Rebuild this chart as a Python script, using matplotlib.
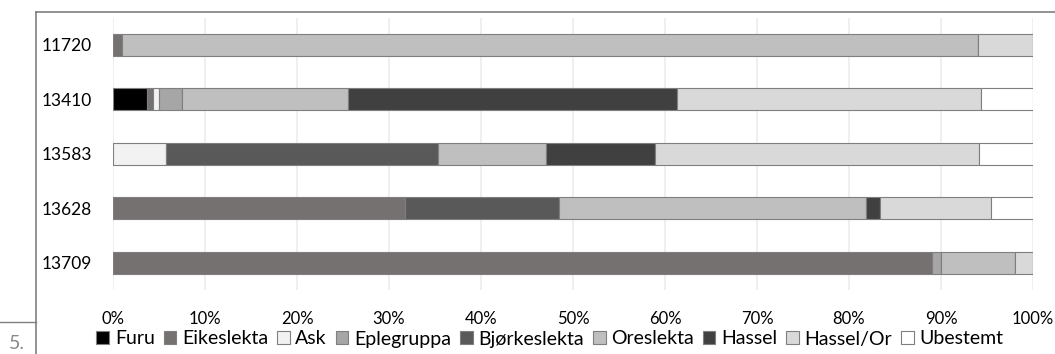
import matplotlib
matplotlib.use("Agg")
import matplotlib.pyplot as plt
from matplotlib.lines import Line2D
import numpy as np

plt.rcParams['font.family'] = ['Lato', 'DejaVu Sans']

categories = ["11720", "13410", "13583", "13628", "13709"]
series = ["Furu", "Eikeslekta", "Ask", "Eplegruppa", "Bjørkeslekta",
          "Oreslekta", "Hassel", "Hassel/Or", "Ubestemt"]
colors = ["#000000", "#767171", "#f2f2f2", "#a6a6a6", "#595959",
          "#bfbfbf", "#404040", "#d9d9d9", "#ffffff"]

# percentages per series, order follows categories
furu         = [0.0, 3.7, 0.0, 0.0, 0.0]
eikeslekta   = [1.0, 0.6, 0.0, 31.7, 89.0]
ask          = [0.0, 0.7, 5.8, 0.0, 0.0]
eplegruppa   = [0.0, 2.5, 0.0, 0.0, 1.0]
bjorkeslekta = [0.0, 0.0, 29.5, 16.8, 0.0]
oreslekta    = [93.0, 18.0, 11.8, 33.3, 8.0]
hassel       = [0.0, 35.8, 11.8, 1.6, 0.0]
hassel_or    = [6.0, 33.0, 35.2, 12.0, 2.0]
ubestemt     = [0.0, 5.7, 5.9, 4.6, 0.0]

values = [furu, eikeslekta, ask, eplegruppa, bjorkeslekta,
          oreslekta, hassel, hassel_or, ubestemt]

W, H = 1055, 354
fig = plt.figure(figsize=(W / 100, H / 100), dpi=100)
ax = fig.add_axes([113 / W, (H - 290) / H, (1033 - 113) / W, (290 - 17.5) / H])

y = np.arange(len(categories))[::-1]
left = np.zeros(len(categories))
for name, vals, col in zip(series, values, colors):
    v = np.array(vals)
    ax.barh(y, v, left=left, height=0.4, color=col, edgecolor="#7f7f7f",
            linewidth=0.8, label=name, zorder=3)
    left += v

ax.set_xlim(0, 100)
ax.set_ylim(-0.5, len(categories) - 0.5)
ax.set_xticks(np.arange(0, 101, 10))
ax.set_xticklabels([f"{t}%" for t in range(0, 101, 10)], fontsize=12)
ax.set_yticks(y)
ax.set_yticklabels(categories, fontsize=12.5)
ax.tick_params(axis='both', length=0, colors="#000000")
ax.tick_params(axis='x', pad=15)
ax.tick_params(axis='y', pad=15)
ax.grid(axis='x', color="#ececec", linewidth=1.2, zorder=0)
for s in ax.spines.values():
    s.set_visible(False)

handles = [plt.Rectangle((0, 0), 1, 1, facecolor=c, edgecolor="#7f7f7f", linewidth=0.8)
           for c in colors]
fig.legend(handles, series, loc="center", bbox_to_anchor=(550 / W, (H - 339) / H),
           ncol=len(series), frameon=False, fontsize=14, handlelength=0.65,
           handleheight=0.65, handletextpad=0.3, columnspacing=0.45)

# outer frame lines
fig.add_artist(Line2D([36 / W, 1.0], [(H - 12) / H, (H - 12) / H], color="#7f7f7f", linewidth=1.2))
fig.add_artist(Line2D([36 / W, 36 / W], [(H - 12) / H, 0], color="#7f7f7f", linewidth=1.2))
fig.add_artist(Line2D([0, 36 / W], [(H - 322) / H, (H - 322) / H], color="#7f7f7f", linewidth=1.0))
fig.text(9 / W, 2 / H, "5.", fontsize=14, color="#888888", va="bottom")

fig.savefig("out.png", dpi=100)
